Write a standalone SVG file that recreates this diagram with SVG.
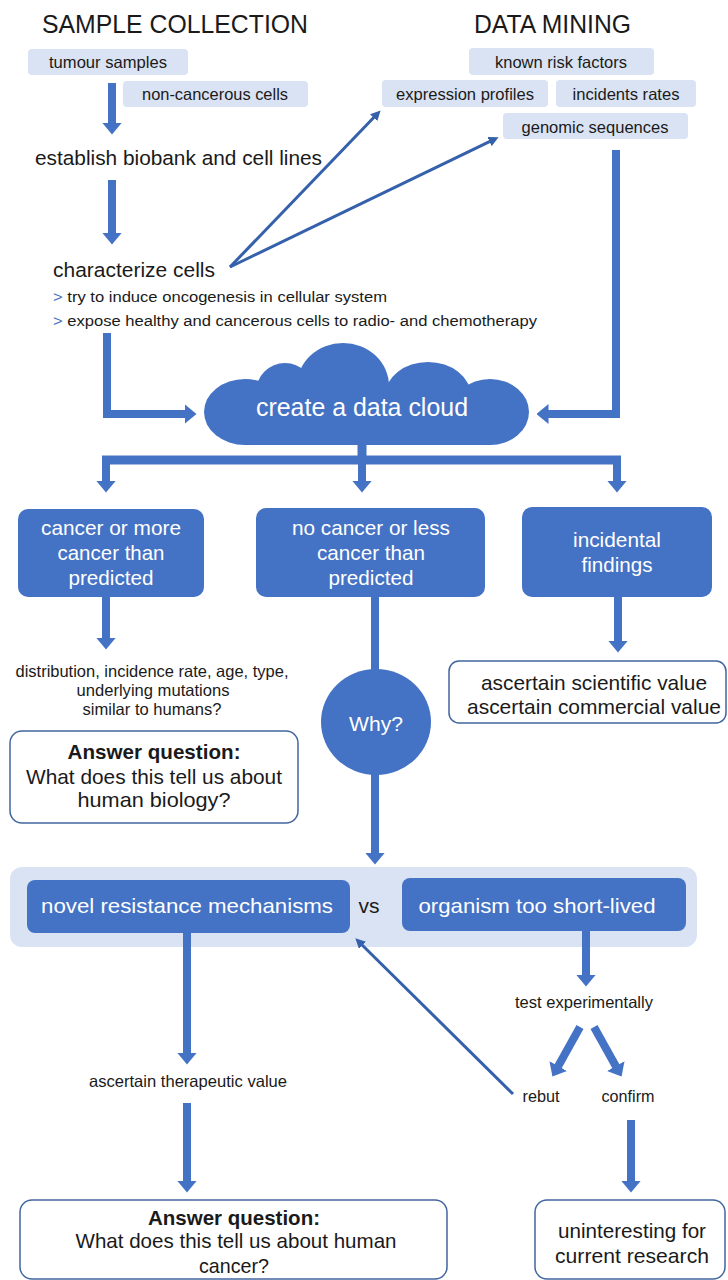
<svg xmlns="http://www.w3.org/2000/svg" width="728" height="1280" viewBox="0 0 728 1280">
<style>
text{font-family:"Liberation Sans",Arial,sans-serif;fill:#1a1a1a}
.title{font-size:25px}
.lb{fill:#dae3f3}
.lbt{font-size:16.5px;text-anchor:middle}
.body{font-size:20.5px}
.small{font-size:16.5px}
.wt{fill:#ffffff;text-anchor:middle;font-size:21px}
.blue{fill:#4472c4}
.wbox{fill:#ffffff;stroke:#41669f;stroke-width:1.5}
.bx{font-size:21px;text-anchor:middle}
.thick{stroke:#4472c4;stroke-width:8;fill:none;marker-end:url(#hd)}
.thin{stroke:#3560ab;stroke-width:3;fill:none;marker-end:url(#hs)}
.bar{stroke:#4472c4;stroke-width:9;fill:none}
</style>
<defs>
<marker id="hd" markerUnits="userSpaceOnUse" viewBox="0 -10 12 20" markerWidth="12" markerHeight="20" refX="0.5" refY="0" orient="auto"><path d="M0,-10 L12,0 L0,10 z" fill="#4472c4"/></marker>
<marker id="hs" markerUnits="userSpaceOnUse" viewBox="0 -5 10 10" markerWidth="10" markerHeight="10" refX="0.5" refY="0" orient="auto"><path d="M0,-5 L10,0 L0,5 z" fill="#3560ab"/></marker>
</defs>
<rect width="728" height="1280" fill="#ffffff"/>

<g id="titles">
<text class="title" x="42" y="33" textLength="266" lengthAdjust="spacingAndGlyphs">SAMPLE COLLECTION</text>
<text class="title" x="474" y="33" textLength="157" lengthAdjust="spacingAndGlyphs">DATA MINING</text>
</g>

<g id="container">
<rect x="10" y="867" width="687" height="80" rx="12" class="lb"/>
</g>

<g id="connectors">
<line class="thick" x1="112" y1="83" x2="112" y2="123"/>
<line class="thick" x1="112" y1="180" x2="112" y2="233"/>
<polyline class="thick" points="107,333 107,414 185,414"/>
<polyline class="thick" points="616,150 616,414 548,414"/>
<line class="bar" x1="362" y1="440" x2="362" y2="460"/>
<line class="bar" x1="102" y1="460" x2="621" y2="460"/>
<line class="thick" x1="106" y1="460" x2="106" y2="481"/>
<line class="thick" x1="362" y1="460" x2="362" y2="481"/>
<line class="thick" x1="617" y1="460" x2="617" y2="481"/>
<line class="thick" x1="106" y1="597" x2="106" y2="638"/>
<line class="thick" x1="375" y1="597" x2="375" y2="853"/>
<line class="thick" x1="618" y1="597" x2="618" y2="641"/>
<line class="thick" x1="586" y1="931" x2="586" y2="975"/>
<line class="thick" x1="187" y1="933" x2="187" y2="1053"/>
<line class="thick" x1="187" y1="1103" x2="187" y2="1181"/>
<line class="thick" x1="631" y1="1120" x2="631" y2="1181"/>
<line class="thick" x1="580" y1="1027" x2="558" y2="1066.5"/>
<line class="thick" x1="594" y1="1027" x2="616" y2="1066.5"/>
<line class="thin" x1="230" y1="267" x2="374" y2="117.3"/>
<line class="thin" x1="230" y1="267" x2="490" y2="141.4"/>
<line class="thin" x1="513" y1="1094" x2="362.1" y2="945"/>
</g>

<g id="tumour-samples">
<rect x="28" y="49" width="160" height="26" rx="4" class="lb"/>
<text class="lbt" x="108" y="68" textLength="118" lengthAdjust="spacingAndGlyphs">tumour samples</text>
</g>
<g id="non-cancerous-cells">
<rect x="123" y="81" width="185" height="26" rx="4" class="lb"/>
<text class="lbt" x="215" y="100" textLength="146" lengthAdjust="spacingAndGlyphs">non-cancerous cells</text>
</g>
<g id="known-risk-factors">
<rect x="469" y="48" width="185" height="27" rx="4" class="lb"/>
<text class="lbt" x="561" y="68" textLength="132" lengthAdjust="spacingAndGlyphs">known risk factors</text>
</g>
<g id="expression-profiles">
<rect x="382" y="80" width="166" height="27" rx="4" class="lb"/>
<text class="lbt" x="465" y="100" textLength="138" lengthAdjust="spacingAndGlyphs">expression profiles</text>
</g>
<g id="incidents-rates">
<rect x="556" y="80" width="140" height="27" rx="4" class="lb"/>
<text class="lbt" x="626" y="100" textLength="107" lengthAdjust="spacingAndGlyphs">incidents rates</text>
</g>
<g id="genomic-sequences">
<rect x="503" y="113" width="185" height="26" rx="4" class="lb"/>
<text class="lbt" x="595" y="133" textLength="147" lengthAdjust="spacingAndGlyphs">genomic sequences</text>
</g>

<g id="establish-biobank">
<text class="body" x="35" y="165" textLength="287" lengthAdjust="spacingAndGlyphs">establish biobank and cell lines</text>
</g>
<g id="characterize-cells">
<text class="body" x="53" y="277" textLength="162" lengthAdjust="spacingAndGlyphs">characterize cells</text>
<text x="53" y="302" font-size="15.5" textLength="334" lengthAdjust="spacingAndGlyphs"><tspan fill="#4472c4">&gt;</tspan> try to induce oncogenesis in cellular system</text>
<text x="53" y="326" font-size="15.5" textLength="484" lengthAdjust="spacingAndGlyphs"><tspan fill="#4472c4">&gt;</tspan> expose healthy and cancerous cells to radio- and chemotherapy</text>
</g>

<g id="data-cloud" fill="#4472c4">
<ellipse cx="245" cy="412" rx="41" ry="33"/>
<circle cx="285" cy="392" r="29"/>
<ellipse cx="343" cy="386" rx="46" ry="43"/>
<ellipse cx="428" cy="396" rx="43" ry="34"/>
<ellipse cx="490" cy="412" rx="39" ry="33"/>
<rect x="245" y="395" width="245" height="50"/>
<text x="362" y="416" text-anchor="middle" font-size="25" textLength="212" lengthAdjust="spacingAndGlyphs" style="fill:#fff">create a data cloud</text>
</g>

<g id="cancer-more">
<rect x="18" y="509" width="186" height="88" rx="10" class="blue"/>
<text class="wt" x="111" y="535" textLength="140" lengthAdjust="spacingAndGlyphs">cancer or more</text>
<text class="wt" x="111" y="560" textLength="107" lengthAdjust="spacingAndGlyphs">cancer than</text>
<text class="wt" x="111" y="585" textLength="85" lengthAdjust="spacingAndGlyphs">predicted</text>
</g>
<g id="cancer-less">
<rect x="256" y="508" width="229" height="89" rx="10" class="blue"/>
<text class="wt" x="371" y="535" textLength="158" lengthAdjust="spacingAndGlyphs">no cancer or less</text>
<text class="wt" x="371" y="560" textLength="108" lengthAdjust="spacingAndGlyphs">cancer than</text>
<text class="wt" x="371" y="585" textLength="85" lengthAdjust="spacingAndGlyphs">predicted</text>
</g>
<g id="incidental">
<rect x="522" y="507" width="190" height="90" rx="10" class="blue"/>
<text class="wt" x="617" y="547" textLength="88" lengthAdjust="spacingAndGlyphs">incidental</text>
<text class="wt" x="617" y="572" textLength="71" lengthAdjust="spacingAndGlyphs">findings</text>
</g>

<g id="distribution">
<text class="small" x="152" y="677" text-anchor="middle" textLength="273" lengthAdjust="spacingAndGlyphs">distribution, incidence rate, age, type,</text>
<text class="small" x="153" y="696" text-anchor="middle" textLength="153" lengthAdjust="spacingAndGlyphs">underlying mutations</text>
<text class="small" x="152" y="715" text-anchor="middle" textLength="139" lengthAdjust="spacingAndGlyphs">similar to humans?</text>
</g>

<g id="why">
<ellipse cx="376" cy="722" rx="55" ry="53" class="blue"/>
<text class="wt" x="376" y="731" textLength="54" lengthAdjust="spacingAndGlyphs">Why?</text>
</g>

<g id="scientific-value">
<rect x="449" y="661" width="277" height="62" rx="10" class="wbox"/>
<text class="bx" x="594" y="690" textLength="226" lengthAdjust="spacingAndGlyphs">ascertain scientific value</text>
<text class="bx" x="594" y="714" textLength="254" lengthAdjust="spacingAndGlyphs">ascertain commercial value</text>
</g>

<g id="biology-question">
<rect x="10" y="731" width="288" height="92" rx="12" class="wbox"/>
<text class="bx" x="154" y="759" font-weight="bold" textLength="173" lengthAdjust="spacingAndGlyphs">Answer question:</text>
<text class="bx" x="154" y="784" textLength="256" lengthAdjust="spacingAndGlyphs">What does this tell us about</text>
<text class="bx" x="154" y="807" textLength="153" lengthAdjust="spacingAndGlyphs">human biology?</text>
</g>

<g id="novel-resistance">
<rect x="27" y="880" width="323" height="53" rx="8" class="blue"/>
<text class="wt" x="187" y="913" font-size="22" textLength="292" lengthAdjust="spacingAndGlyphs">novel resistance mechanisms</text>
</g>
<g id="vs">
<text x="369" y="913" font-size="21" text-anchor="middle">vs</text>
</g>
<g id="short-lived">
<rect x="402" y="878" width="284" height="53" rx="8" class="blue"/>
<text class="wt" x="537" y="913" font-size="22" textLength="237" lengthAdjust="spacingAndGlyphs">organism too short-lived</text>
</g>

<g id="test-experimentally">
<text class="small" x="584" y="1008" text-anchor="middle" textLength="138" lengthAdjust="spacingAndGlyphs">test experimentally</text>
</g>
<g id="rebut">
<text class="small" x="541" y="1102" text-anchor="middle" textLength="37" lengthAdjust="spacingAndGlyphs">rebut</text>
</g>
<g id="confirm">
<text class="small" x="628" y="1102" text-anchor="middle" textLength="53" lengthAdjust="spacingAndGlyphs">confirm</text>
</g>
<g id="therapeutic-value">
<text class="small" x="188" y="1087" text-anchor="middle" textLength="198" lengthAdjust="spacingAndGlyphs">ascertain therapeutic value</text>
</g>

<g id="cancer-question">
<rect x="20" y="1200" width="427" height="79" rx="12" class="wbox"/>
<text class="bx" x="234" y="1225" font-weight="bold" textLength="172" lengthAdjust="spacingAndGlyphs">Answer question:</text>
<text class="bx" x="236" y="1248" textLength="321" lengthAdjust="spacingAndGlyphs">What does this tell us about human</text>
<text class="bx" x="234" y="1273" textLength="70" lengthAdjust="spacingAndGlyphs">cancer?</text>
</g>
<g id="uninteresting">
<rect x="535" y="1200" width="190" height="79" rx="12" class="wbox"/>
<text class="bx" x="632" y="1238" textLength="148" lengthAdjust="spacingAndGlyphs">uninteresting for</text>
<text class="bx" x="632" y="1263" textLength="154" lengthAdjust="spacingAndGlyphs">current research</text>
</g>
</svg>
